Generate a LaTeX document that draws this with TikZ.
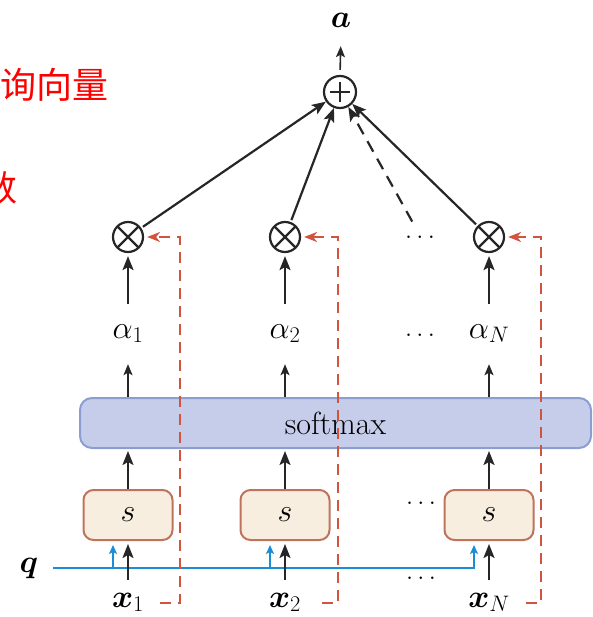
\RequirePackage{fix-cm}
\documentclass[tikz,border=0pt]{standalone}
\usepackage{fontspec}
\usepackage{amsmath}
\usetikzlibrary{arrows.meta}
\newfontfamily\cjk{Noto Sans CJK SC}
\definecolor{softfill}{HTML}{C5CDEA}
\definecolor{softline}{HTML}{8C9ED0}
\definecolor{scorefill}{HTML}{F7EEDF}
\definecolor{scoreline}{HTML}{C0735C}
\definecolor{keyred}{HTML}{D0553F}
\definecolor{queryblue}{HTML}{1C8CD4}
\tikzset{
  sum node/.style={
    circle, draw=black!85, line width=2.2pt,
    minimum size=32pt, inner sep=0pt,
    path picture={
      \draw [line width=2.2pt]
        ([xshift=-10pt]path picture bounding box.center) -- ([xshift=10pt]path picture bounding box.center)
        ([yshift=-10pt]path picture bounding box.center) -- ([yshift=10pt]path picture bounding box.center);
    },
  },
  prod node/.style={
    circle, draw=black!85, line width=2.2pt,
    minimum size=30pt, inner sep=0pt,
    path picture={
      \draw [line width=2.2pt]
        (path picture bounding box.north west) -- (path picture bounding box.south east)
        (path picture bounding box.north east) -- (path picture bounding box.south west);
    },
  },
  score box/.style={
    draw=scoreline, fill=scorefill, line width=2pt,
    rounded corners=10pt,
    minimum width=89pt, minimum height=50pt,
  },
  softmax box/.style={
    draw=softline, fill=softfill, line width=2pt,
    rounded corners=12pt,
    minimum width=511pt, minimum height=50pt,
  },
  label/.style={inner sep=0pt, text height=14pt, text depth=6pt},
  dots/.style={inner sep=0pt, font=\fontsize{26}{30}\selectfont},
  note/.style={text=red, inner sep=0pt, font=\cjk\fontsize{36}{40}\selectfont},
  link/.style={draw=black!85, line width=2.2pt, -{Stealth[length=14pt, width=11pt, inset=3pt]}},
  thin link/.style={draw=black!85, line width=1.6pt, -{Stealth[length=11pt, width=9pt, inset=2.5pt]}},
  key link/.style={draw=keyred, line width=2pt, dash pattern=on 11pt off 7pt, -{Stealth[length=13pt, width=10pt, inset=4pt]}},
  query link/.style={draw=queryblue, line width=2pt, -{Stealth[length=9pt, width=8pt, inset=2pt]}},
}

\begin{document}
\begin{tikzpicture}[x=1pt, y=-1pt, font=\fontsize{32}{38}\selectfont]
  \useasboundingbox (0,0) rectangle (592,617);

  \node [note, anchor=west] (query note) at (0,85) {询向量};
  \node [note] (score note) at (0,188) {数};

  \node [sum node] (sum) at (340,92) {};
  \node [label] (a) at (341,24) {$\boldsymbol{a}$};

  \node [prod node] (p1) at (128,237) {};
  \node [prod node] (p2) at (285,237) {};
  \node [dots] (p dots) at (420,237) {$\ldots$};
  \node [prod node] (pN) at (489,237) {};

  \node [label] (al1) at (128,334) {$\alpha_1$};
  \node [label] (al2) at (285,334) {$\alpha_2$};
  \node [dots] (al dots) at (420,335) {$\ldots$};
  \node [label] (alN) at (489,334) {$\alpha_N$};

  \node [softmax box] (softmax) at (335.5,423) {softmax};

  \node [score box] (s1) at (128,515) {$s$};
  \node [score box] (s2) at (285,515) {$s$};
  \node [dots] (s dots) at (421,503) {$\ldots$};
  \node [score box] (sN) at (489,515) {$s$};

  \node [label] (q) at (29,568) {$\boldsymbol{q}$};
  \node [label] (x1) at (128,603) {$\boldsymbol{x}_1$};
  \node [label] (x2) at (285,603) {$\boldsymbol{x}_2$};
  \node [dots] (x dots) at (421,578) {$\ldots$};
  \node [label] (xN) at (489,603) {$\boldsymbol{x}_N$};

  % weighted sum
  \draw [thin link, shorten <=5pt, shorten >=12pt] (sum.north) -- (a.south);
  \draw [link, shorten <=2pt] (p1) -- (sum);
  \draw [link, shorten <=2pt] (p2) -- (sum);
  \draw [link, dash pattern=on 12pt off 8pt, shorten <=16pt] (p dots.north) -- (sum);
  \draw [link, shorten <=2pt] (pN) -- (sum);

  % weights
  \draw [link, shorten <=20pt, shorten >=3pt] (al1.north) -- (p1.south);
  \draw [link, shorten <=20pt, shorten >=3pt] (al2.north) -- (p2.south);
  \draw [link, shorten <=20pt, shorten >=3pt] (alN.north) -- (pN.south);
  \draw [thin link, shorten >=20pt] (softmax.north -| al1) -- (al1.south);
  \draw [thin link, shorten >=20pt] (softmax.north -| al2) -- (al2.south);
  \draw [thin link, shorten >=20pt] (softmax.north -| alN) -- (alN.south);

  % scores
  \draw [link, shorten >=2pt] (s1.north) -- (s1.north |- softmax.south);
  \draw [link, shorten >=2pt] (s2.north) -- (s2.north |- softmax.south);
  \draw [link, shorten >=2pt] (sN.north) -- (sN.north |- softmax.south);

  % query
  \draw [query link, shorten <=15pt, shorten >=4pt] (q.east) -| ([xshift=-15pt]sN.south);
  \draw [query link, shorten >=4pt] ([xshift=-15pt]s1.south |- q.east) -- ([xshift=-15pt]s1.south);
  \draw [query link, shorten >=4pt] ([xshift=-15pt]s2.south |- q.east) -- ([xshift=-15pt]s2.south);

  % inputs
  \draw [link, shorten <=13pt, shorten >=3pt] (x1.north) -- (s1.south);
  \draw [link, shorten <=13pt, shorten >=3pt] (x2.north) -- (s2.south);
  \draw [link, shorten <=13pt, shorten >=3pt] (xN.north) -- (sN.south);

  % values
  \draw [key link, shorten >=3pt] ([xshift=32pt]x1.center) -| ([xshift=52pt]p1.center) -- (p1.east);
  \draw [key link, shorten >=3pt] ([xshift=37pt]x2.center) -| ([xshift=53pt]p2.center) -- (p2.east);
  \draw [key link, shorten >=3pt] ([xshift=37pt]xN.center) -| ([xshift=52pt]pN.center) -- (pN.east);
\end{tikzpicture}
\end{document}
